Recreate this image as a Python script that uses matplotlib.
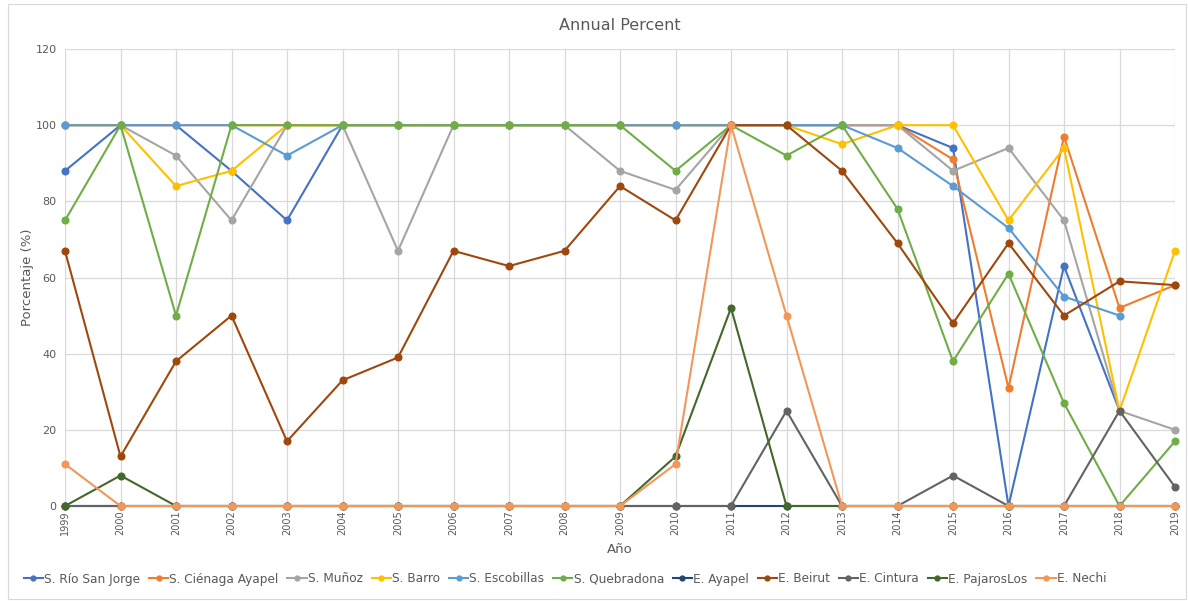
import matplotlib
matplotlib.use("Agg")
import matplotlib.pyplot as plt
from matplotlib.patches import Rectangle

years = list(range(1999, 2020))
N = None

rio_san_jorge   = [88, 100, 100, 88, 75, 100, 100, 100, 100, 100, 100, 100, 100, 100, 100, 100, 94, 0, 63, 25, N]
cienaga_ayapel  = [100, 100, 100, 100, 100, 100, 100, 100, 100, 100, 100, 100, 100, 100, 100, 100, 91, 31, 97, 52, 58]
munoz           = [100, 100, 92, 75, 100, 100, 67, 100, 100, 100, 88, 83, 100, 100, 100, 100, 88, 94, 75, 25, 20]
barro           = [100, 100, 84, 88, 100, 100, 100, 100, 100, 100, 100, 100, 100, 100, 95, 100, 100, 75, 94, 25, 67]
escobillas      = [100, 100, 100, 100, 92, 100, 100, 100, 100, 100, 100, 100, 100, 100, 100, 94, 84, 73, 55, 50, N]
quebradona      = [75, 100, 50, 100, 100, 100, 100, 100, 100, 100, 100, 88, 100, 92, 100, 78, 38, 61, 27, 0, 17]
e_ayapel        = [0] * 21
e_beirut        = [67, 13, 38, 50, 17, 33, 39, 67, 63, 67, 84, 75, 100, 100, 88, 69, 48, 69, 50, 59, 58]
e_cintura       = [0, 0, 0, 0, 0, 0, 0, 0, 0, 0, 0, 0, 0, 25, 0, 0, 8, 0, 0, 25, 5]
e_pajaroslos    = [0, 8, 0, 0, 0, 0, 0, 0, 0, 0, 0, 13, 52, 0, 0, 0, 0, 0, 0, 0, 0]
e_nechi         = [11, 0, 0, 0, 0, 0, 0, 0, 0, 0, 0, 11, 100, 50, 0, 0, 0, 0, 0, 0, 0]

series_names = ["S. Río San Jorge", "S. Ciénaga Ayapel", "S. Muñoz", "S. Barro",
                "S. Escobillas", "S. Quebradona", "E. Ayapel", "E. Beirut",
                "E. Cintura", "E. PajarosLos", "E. Nechi"]
series_values = [rio_san_jorge, cienaga_ayapel, munoz, barro, escobillas, quebradona,
                 e_ayapel, e_beirut, e_cintura, e_pajaroslos, e_nechi]
colors = ["#4472C4", "#ED7D31", "#A5A5A5", "#FFC000", "#5B9BD5", "#70AD47",
          "#264478", "#9E480E", "#636363", "#43682B", "#F1975A"]

plt.rcParams['font.family'] = ['DejaVu Sans']

fig = plt.figure(figsize=(11.88, 6.01), dpi=100)
fig.patches.append(Rectangle((8/1188, 2/601), 1 - 10/1188, 1 - 6/601, transform=fig.transFigure,
                             fill=False, edgecolor="#D9D9D9", linewidth=0.8))
ax = fig.add_axes([65/1188, (601-506)/601, (1175-65)/1188, (506-49)/601])

for name, vals, c in zip(series_names, series_values, colors):
    xs = [y for y, v in zip(years, vals) if v is not None]
    ys = [v for v in vals if v is not None]
    ax.plot(xs, ys, color=c, linewidth=1.5, marker='o', markersize=4.8, label=name,
            clip_on=False, zorder=3)

ax.set_xlim(1999, 2019)
ax.set_ylim(0, 120)
ax.set_yticks(range(0, 121, 20))
ax.set_xticks(years)
ax.set_xticklabels([str(y) for y in years], rotation=90, fontsize=7, color="#595959")
ax.tick_params(axis='y', labelsize=8, colors="#595959", length=0, pad=6)
ax.tick_params(axis='x', length=0, pad=3)
ax.grid(True, color="#D9D9D9", linewidth=0.9, zorder=0)
for s in ["top", "right", "left"]:
    ax.spines[s].set_visible(False)
ax.spines["bottom"].set_color("#D9D9D9")

ax.set_title("Annual Percent", fontsize=11.5, color="#595959", pad=14)
ax.set_ylabel("Porcentaje (%)", fontsize=9.5, color="#595959")
ax.yaxis.set_label_coords(-31/1110, 0.5)
ax.set_xlabel("Año", fontsize=9.5, color="#595959", labelpad=6)

leg = fig.legend(loc="center", bbox_to_anchor=(565/1188, 22/601), ncol=11, frameon=False,
                 fontsize=8.7, handlelength=1.6, handletextpad=0.1, columnspacing=0.72,
                 labelcolor="#595959")
for h in leg.legend_handles:
    h.set_markersize(3.5)

fig.savefig("out.png", dpi=100)
